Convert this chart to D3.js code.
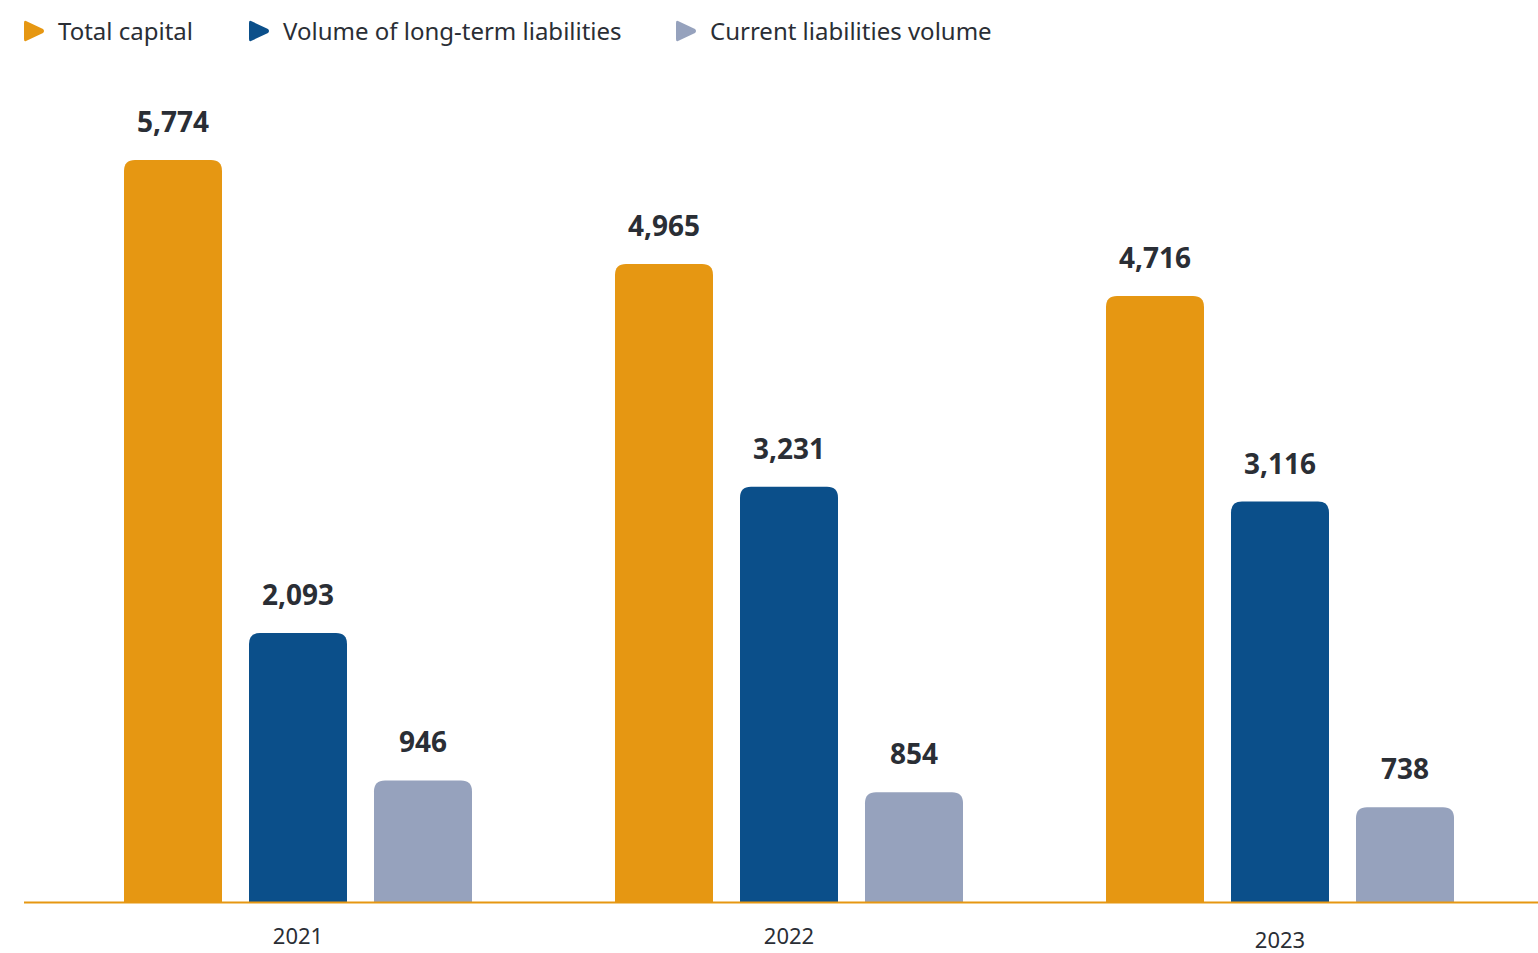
<!DOCTYPE html>
<html>
<head>
<meta charset="utf-8">
<script src="https://cdn.jsdelivr.net/npm/d3@7"></script>
<style>
  html, body { margin: 0; padding: 0; background: #fff; }
  svg { display: block; font-family: "Noto Sans", "Open Sans", sans-serif; }
</style>
</head>
<body>
<svg width="1538" height="953"></svg>
<script>
var years = ["2021", "2022", "2023"];
var series = ["Total capital", "Volume of long-term liabilities", "Current liabilities volume"];
var colors = ["#E69712", "#0B4F8A", "#96A2BD"];
var totalCapital = [5774, 4965, 4716];
var longTerm = [2093, 3231, 3116];
var current = [946, 854, 738];

var textColor = "#2A2E35";
var radius = 11;

var svg = d3.select("svg");

var rows = years.map(function(y, i) {
    return [totalCapital[i], longTerm[i], current[i]];
});

var x0 = d3.scalePoint().domain(years).range([298, 1280]);
var x1 = d3.scaleBand().domain(series).range([-174, 174]).paddingInner(0.216);
var y = d3.scaleLinear().domain([0, 6000]).range([902, 131]);

// rounded-top bar
function barPath(x, top, w, bottom) {
    var r = Math.min(radius, w / 2, bottom - top);
    return "M" + x + "," + bottom +
        "V" + (top + r) +
        "Q" + x + "," + top + " " + (x + r) + "," + top +
        "H" + (x + w - r) +
        "Q" + (x + w) + "," + top + " " + (x + w) + "," + (top + r) +
        "V" + bottom + "Z";
}

var groups = svg.selectAll(".year")
    .data(years)
    .enter().append("g")
    .attr("class", "year")
    .attr("transform", function(d) { return "translate(" + x0(d) + ",0)"; });

groups.selectAll("path")
    .data(function(d, i) { return rows[i].map(function(v, j) { return {s: series[j], v: v, c: colors[j]}; }); })
    .enter().append("path")
    .attr("fill", function(d) { return d.c; })
    .attr("d", function(d) { return barPath(x1(d.s), y(d.v), x1.bandwidth(), y(0)); });

groups.selectAll("text.val")
    .data(function(d, i) { return rows[i].map(function(v, j) { return {s: series[j], v: v}; }); })
    .enter().append("text")
    .attr("class", "val")
    .attr("x", function(d) { return x1(d.s) + x1.bandwidth() / 2; })
    .attr("y", function(d) { return y(d.v) - 28; })
    .attr("text-anchor", "middle")
    .attr("fill", textColor)
    .style("font-size", "28px")
    .style("font-weight", "700")
    .text(function(d) { return d3.format(",")(d.v); });

// baseline
svg.append("line")
    .attr("x1", 24).attr("x2", 1538)
    .attr("y1", y(0) + 0.5).attr("y2", y(0) + 0.5)
    .attr("stroke", "#E69712")
    .attr("stroke-width", 2);

// year labels
svg.selectAll(".ylab")
    .data(years)
    .enter().append("text")
    .attr("class", "ylab")
    .attr("x", function(d) { return x0(d); })
    .attr("y", function(d, i) { return i == 2 ? 948 : 944; })
    .attr("text-anchor", "middle")
    .attr("fill", textColor)
    .style("font-size", "22px")
    .text(function(d) { return d; });

// legend
var legendX = [24, 249, 676];
var legend = svg.selectAll(".legend")
    .data(series)
    .enter().append("g")
    .attr("class", "legend")
    .attr("transform", function(d, i) { return "translate(" + legendX[i] + ",31)"; });

legend.append("path")
    .attr("d", "M2,-10 Q0,-11 0,-8 V8 Q0,11 2,10 L19,2 Q21,0 19,-2 Z")
    .attr("fill", function(d, i) { return colors[i]; });

legend.append("text")
    .attr("x", 34)
    .attr("y", 9)
    .attr("fill", textColor)
    .style("font-size", "24px")
    .text(function(d) { return d; });
</script>
</body>
</html>
